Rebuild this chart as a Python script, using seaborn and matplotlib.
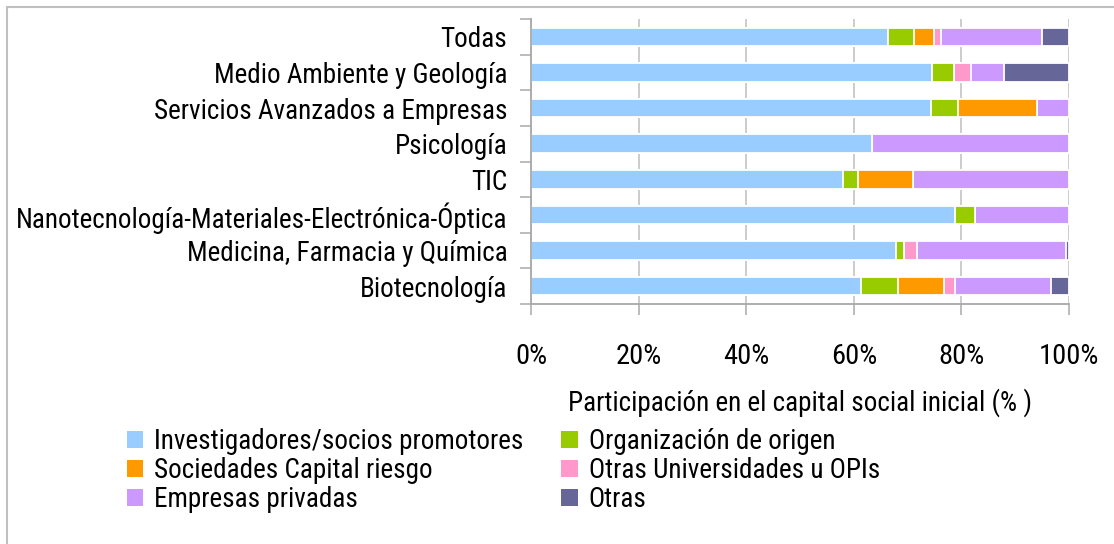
"""Stacked 100% horizontal bars: participación en el capital social inicial."""
import matplotlib
matplotlib.use("Agg")
import matplotlib.pyplot as plt
import numpy as np
import pandas as pd
import seaborn as sns
from matplotlib import font_manager
from matplotlib.patches import Patch, Rectangle
from matplotlib.ticker import PercentFormatter

CATEGORIES = [
    "Todas",
    "Medio Ambiente y Geología",
    "Servicios Avanzados a Empresas",
    "Psicología",
    "TIC",
    "Nanotecnología-Materiales-Electrónica-Óptica",
    "Medicina, Farmacia y Química",
    "Biotecnología",
]

SERIES = [
    "Investigadores/socios promotores",
    "Organización de origen",
    "Sociedades Capital riesgo",
    "Otras Universidades u OPIs",
    "Empresas privadas",
    "Otras",
]
COLORS = ["#99CCFF", "#99CC00", "#FF9900", "#FF99CC", "#CC99FF", "#666699"]

INVESTIGADORES = [66.4, 74.6, 74.3, 63.4, 57.9, 78.8, 67.9, 61.3]
ORGANIZACION = [4.8, 4.0, 5.0, 0.0, 2.9, 3.7, 1.5, 7.0]
CAPITAL_RIESGO = [3.7, 0.0, 14.7, 0.0, 10.2, 0.0, 0.0, 8.4]
OTRAS_UNIV = [1.3, 3.2, 0.0, 0.0, 0.0, 0.0, 2.3, 2.1]
EMPRESAS = [18.8, 6.1, 6.0, 36.6, 29.0, 17.5, 27.8, 17.9]
OTRAS = [5.0, 12.1, 0.0, 0.0, 0.0, 0.0, 0.5, 3.3]

XTICKS = [0, 20, 40, 60, 80, 100]
XLABEL = "Participación en el capital social inicial (% )"

W, H, DPI = 1114, 544, 100


def pick_narrow_font():
    """Return (family, stretch) for the narrowest sans available."""
    fonts = font_manager.fontManager.ttflist
    names = {f.name for f in fonts}
    for name in ["Liberation Sans Narrow", "Arial Narrow", "Roboto Condensed",
                 "Open Sans Condensed", "Noto Sans Condensed", "DejaVu Sans Condensed"]:
        if name in names:
            return name, "normal"
    for name in ["DejaVu Sans", "Noto Sans", "Roboto", "Open Sans"]:
        if any(f.name == name and f.stretch in ("condensed", "semi-condensed")
               for f in fonts):
            return name, "condensed"
    return "DejaVu Sans", "normal"


def fit_size(fig, text, target_px, base=19.0):
    t = fig.text(0, 0, text, fontsize=base)
    w = t.get_window_extent(renderer=fig.canvas.get_renderer()).width
    t.remove()
    return min(20.5, base * target_px / w)


def main():
    sns.set_theme(style="white")
    family, stretch = pick_narrow_font()
    plt.rcParams["font.family"] = [family, "DejaVu Sans"]
    plt.rcParams["font.stretch"] = stretch

    df = pd.DataFrame(
        [INVESTIGADORES, ORGANIZACION, CAPITAL_RIESGO, OTRAS_UNIV, EMPRESAS, OTRAS],
        index=SERIES, columns=CATEGORIES,
    ).T
    cum = df.cumsum(axis=1)
    cum["categoria"] = CATEGORIES

    fig = plt.figure(figsize=(W / DPI, H / DPI), dpi=DPI)
    # longest y label runs from x=15 to x=507 in the reference
    fs = fit_size(fig, CATEGORIES[5], 492)

    ax = fig.add_axes([531 / W, 1 - 304 / H, (1069 - 531) / W, (304 - 19) / H])

    # draw longest cumulative first so shorter ones sit on top
    for s, c in reversed(list(zip(SERIES, COLORS))):
        sns.barplot(
            data=cum, x=s, y="categoria", orient="h", color=c, saturation=1,
            width=0.52, edgecolor="white", linewidth=1.3, ax=ax,
        )

    ax.set_xlabel("")
    ax.set_ylabel("")
    ax.set_xlim(0, 100)
    ax.set_ylim(len(CATEGORIES) - 0.5, -0.5)

    ax.set_xticks(XTICKS)
    ax.xaxis.set_major_formatter(PercentFormatter(decimals=0))
    ax.set_axisbelow(True)
    ax.xaxis.grid(True, color="#C8C8C8", linewidth=1.3)
    ax.tick_params(axis="x", length=8, width=1.2, color="#B0B0B0",
                   pad=20, labelsize=fs + 1, labelcolor="black",
                   direction="out", bottom=True)

    ax.set_yticks(np.arange(-0.5, len(CATEGORIES)), labels=[""] * (len(CATEGORIES) + 1))
    ax.set_yticks(np.arange(len(CATEGORIES)), labels=CATEGORIES, minor=True)
    ax.tick_params(axis="y", which="major", length=8, width=1.2, color="#B0B0B0",
                   direction="out", left=True)
    ax.tick_params(axis="y", which="minor", length=0, pad=17, labelsize=fs,
                   labelcolor="black")

    for side in ("top", "right"):
        ax.spines[side].set_visible(False)
    for side in ("left", "bottom"):
        ax.spines[side].set_color("#A8A8A8")
        ax.spines[side].set_linewidth(1.3)

    fig.text(800 / W, 1 - 403 / H, XLABEL, ha="center", va="center",
             fontsize=fs, color="black")

    handles = [Patch(facecolor=c, edgecolor="none", label=s) for s, c in zip(SERIES, COLORS)]
    order = [0, 2, 4, 1, 3, 5]  # row-major look with column-major fill
    fig.legend(
        [handles[i] for i in order], [SERIES[i] for i in order],
        loc="upper left", bbox_to_anchor=(127 / W, 1 - 428 / H), ncol=2,
        frameon=False, fontsize=fs, handlelength=0.6, handleheight=0.6,
        handletextpad=0.4, labelspacing=0.08, columnspacing=1.4,
        borderpad=0, borderaxespad=0, labelcolor="black",
    )

    fig.patches.append(Rectangle(
        (7 / W, -0.1), 1.2, 1 - 7 / H + 0.1, transform=fig.transFigure,
        fill=False, edgecolor="#C0C0C0", linewidth=1.5,
    ))

    fig.savefig("out.png", dpi=DPI)
    plt.close(fig)


if __name__ == "__main__":
    main()
